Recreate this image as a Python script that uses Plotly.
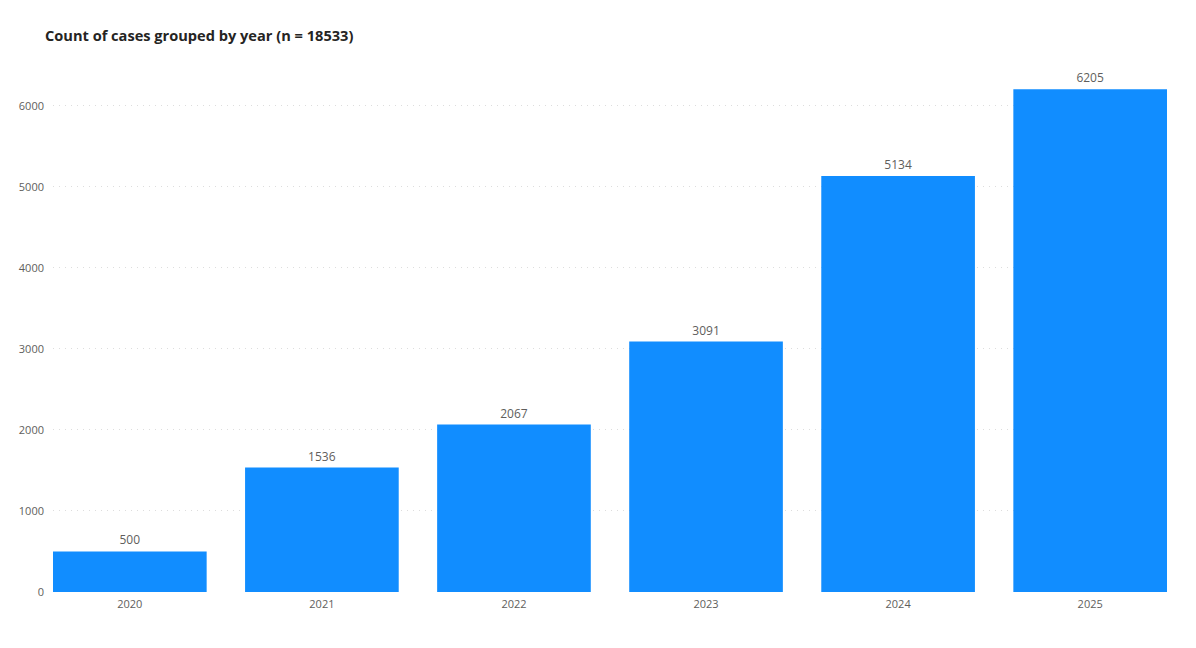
import plotly.graph_objects as go

years = ["2020", "2021", "2022", "2023", "2024", "2025"]
counts = [500, 1536, 2067, 3091, 5134, 6205]
y_ticks = [0, 1000, 2000, 3000, 4000, 5000, 6000]

fig = go.Figure(go.Bar(
    x=years, y=counts,
    marker=dict(color="#118DFF", line=dict(width=0)),
    text=[str(v) for v in counts],
    textposition="outside",
    textfont=dict(family="Open Sans, sans-serif", size=12, color="#605E5C"),
    cliponaxis=False,
))

fig.update_layout(
    width=1196, height=648,
    margin=dict(l=53, r=29, t=58, b=56),
    paper_bgcolor="white", plot_bgcolor="white",
    bargap=0.2,
    showlegend=False,
    title=dict(
        text="<b>Count of cases grouped by year (n = 18533)</b>",
        x=45/1196, xanchor="left", y=1-36/648, yanchor="middle",
        font=dict(family="Open Sans, sans-serif", size=14.6, color="#252423"),
    ),
    xaxis=dict(
        type="category", range=[-0.4, 5.4],
        showgrid=False, showline=False, ticks="",
        ticklabelstandoff=4,
        tickfont=dict(family="Open Sans, sans-serif", size=11, color="#605E5C"),
    ),
    yaxis=dict(
        range=[0, 6590], tickvals=y_ticks,
        showgrid=True, gridcolor="#DDDDDD", griddash="1px,5px", gridwidth=1,
        zeroline=False, showline=False, ticks="",
        ticklabelstandoff=8,
        tickfont=dict(family="Open Sans, sans-serif", size=11, color="#605E5C"),
    ),
)

fig.write_html("out.html")
